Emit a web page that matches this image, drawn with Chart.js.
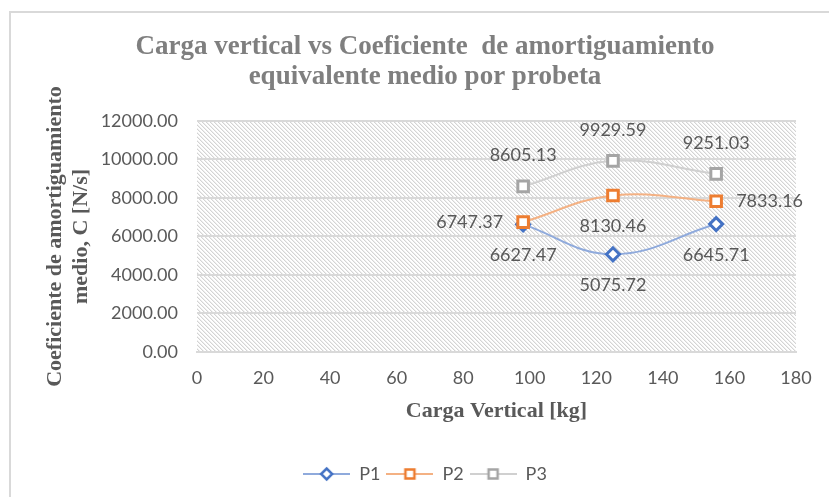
<!DOCTYPE html>
<html><head><meta charset="utf-8">
<script src="https://cdn.jsdelivr.net/npm/chart.js@4.4.1/dist/chart.umd.min.js"></script>
<style>html,body{margin:0;padding:0;background:#fff}#wrap{width:829px;height:497px}</style>
</head><body><div id="wrap"><canvas id="c" width="829" height="497"></canvas></div>
<script>
// ---- data ----
const cargaVertical = [98, 125, 156];
const p1Values = [6627.47, 5075.72, 6645.71];
const p2Values = [6747.37, 8130.46, 7833.16];
const p3Values = [8605.13, 9929.59, 9251.03];
const seriesNames = ['P1', 'P2', 'P3'];
const xTickRange = [0, 180, 20];
const yTickRange = [0, 12000, 2000];
const chartTitle = ['Carga vertical vs Coeficiente  de amortiguamiento', 'equivalente medio por probeta'];
const xTitle = 'Carga Vertical [kg]';
const yTitle = ['Coeficiente de amortiguamiento', 'medio, C [N/s]'];

// ---- styles ----
const seriesStyle = [
  {marker: '#4472C4', line: '#8FAADC', shape: 'rectRot', radius: 6.5},
  {marker: '#ED7D31', line: '#F4B183', shape: 'rect', radius: 7.5},
  {marker: '#A5A5A5', line: '#D0D0D0', shape: 'rect', radius: 7.5}
];
const labelPositions = [
  ['below', 'below', 'below'],
  ['left', 'below', 'right'],
  ['above', 'above', 'above']
];

function makeIcon(st) {
  const c = document.createElement('canvas');
  c.width = 47; c.height = 16;
  const g = c.getContext('2d');
  g.strokeStyle = st.line; g.lineWidth = 2;
  g.beginPath(); g.moveTo(0, 8); g.lineTo(47, 8); g.stroke();
  g.fillStyle = '#fff'; g.strokeStyle = st.marker; g.lineWidth = 2.5;
  g.beginPath();
  if (st.shape === 'rectRot') {
    const r = 5.5;
    g.moveTo(23.5 - r, 8); g.lineTo(23.5, 8 - r); g.lineTo(23.5 + r, 8); g.lineTo(23.5, 8 + r); g.closePath();
  } else {
    g.rect(23.5 - 4.5, 8 - 4.5, 9, 9);
  }
  g.fill(); g.stroke();
  return c;
}
const legendIcons = seriesStyle.map(makeIcon);

function makeHatch() {
  const c = document.createElement('canvas');
  c.width = 4; c.height = 4;
  const g = c.getContext('2d');
  g.fillStyle = '#ffffff'; g.fillRect(0, 0, 4, 4);
  for (let i = 0; i < 4; i++) {
    g.fillStyle = '#d4d4d4'; g.fillRect(i, i, 1, 1);
    g.fillStyle = '#eeeeee'; g.fillRect((i + 1) % 4, i, 1, 1);
  }
  return c;
}

const hatchPlugin = {
  id: 'hatch',
  beforeDraw(chart) {
    const {ctx, chartArea: a} = chart;
    ctx.save();
    // outer frame
    ctx.strokeStyle = '#d9d9d9'; ctx.lineWidth = 2;
    ctx.beginPath(); ctx.moveTo(10, 497); ctx.lineTo(10, 12); ctx.lineTo(829, 12); ctx.stroke();
    ctx.fillStyle = ctx.createPattern(makeHatch(), 'repeat');
    ctx.fillRect(a.left, a.top, a.right - a.left, a.bottom - a.top);
    ctx.restore();
  }
};

const dataLabelPlugin = {
  id: 'dataLabels',
  afterDatasetsDraw(chart, args, opts) {
    const ctx = chart.ctx;
    ctx.save();
    ctx.font = '18px Lato';
    ctx.fillStyle = '#595959';
    chart.data.datasets.forEach((ds, di) => {
      const meta = chart.getDatasetMeta(di);
      meta.data.forEach((pt, i) => {
        const pos = opts.positions[di][i];
        const text = ds.data[i].y.toFixed(2);
        let x = pt.x, y = pt.y;
        ctx.textBaseline = 'middle';
        if (pos === 'above') { ctx.textAlign = 'center'; y -= opts.gapV; }
        else if (pos === 'below') { ctx.textAlign = 'center'; y += opts.gapV; }
        else if (pos === 'left') { ctx.textAlign = 'right'; x -= opts.gapH; }
        else { ctx.textAlign = 'left'; x += opts.gapH; }
        ctx.fillText(text, x, y);
      });
    });
    ctx.restore();
  }
};

const allValues = [p1Values, p2Values, p3Values];
const datasets = allValues.map((vals, si) => ({
  label: seriesNames[si],
  data: cargaVertical.map((x, i) => ({x: x, y: vals[i]})),
  showLine: true,
  tension: 0.4,
  borderColor: seriesStyle[si].line,
  borderWidth: 2,
  pointStyle: seriesStyle[si].shape,
  pointRadius: seriesStyle[si].radius,
  pointHoverRadius: seriesStyle[si].radius,
  pointBorderColor: seriesStyle[si].marker,
  pointBackgroundColor: '#ffffff',
  pointBorderWidth: 3,
  order: 3 - si
}));

Chart.defaults.font.family = 'Lato';
Chart.defaults.color = '#595959';

new Chart(document.getElementById('c'), {
  type: 'scatter',
  data: {datasets: datasets},
  options: {
    responsive: false,
    animation: false,
    devicePixelRatio: 1,
    layout: {padding: {left: 54, right: 33, top: 12, bottom: 4}},
    plugins: {
      title: {
        display: true,
        text: chartTitle,
        color: '#7f7f7f',
        font: {family: 'Liberation Serif', weight: 'bold', size: 27, lineHeight: 1.111},
        padding: {top: 20, bottom: 29}
      },
      legend: {
        position: 'bottom',
        labels: {
          usePointStyle: true,
          pointStyleWidth: 47,
          boxHeight: 16,
          padding: 6,
          color: '#595959',
          font: {family: 'Lato', size: 18},
          sort: (a, b) => a.datasetIndex - b.datasetIndex,
          generateLabels(chart) {
            const items = Chart.defaults.plugins.legend.labels.generateLabels(chart);
            items.forEach((it) => { it.pointStyle = legendIcons[it.datasetIndex]; });
            return items;
          }
        }
      },
      tooltip: {enabled: false},
      dataLabels: {positions: labelPositions, gapV: 31, gapH: 20}
    },
    scales: {
      x: {
        type: 'linear',
        min: xTickRange[0], max: xTickRange[1],
        ticks: {stepSize: xTickRange[2], padding: 15, color: '#595959', font: {family: 'Lato', size: 18}},
        grid: {display: false, drawTicks: false},
        border: {display: true, color: '#d9d9d9', width: 2},
        title: {display: true, text: xTitle, color: '#595959',
          font: {family: 'Liberation Serif', weight: 'bold', size: 22, lineHeight: 1.2},
          padding: {top: 0, bottom: 34}},
        afterFit(s) { s.height = 107; }
      },
      y: {
        min: yTickRange[0], max: yTickRange[1],
        ticks: {stepSize: yTickRange[2], padding: 19, color: '#595959', font: {family: 'Lato', size: 18},
          callback: (v) => Number(v).toFixed(2)},
        grid: {color: '#d9d9d9', lineWidth: 2, drawTicks: false},
        border: {display: false},
        title: {display: true, text: yTitle, color: '#595959',
          font: {family: 'Liberation Serif', weight: 'bold', size: 22, lineHeight: 1.2},
          padding: {top: -12, bottom: 0}},
        afterFit(s) { s.width = 143; }
      }
    }
  },
  plugins: [hatchPlugin, dataLabelPlugin]
});
</script>
</body></html>
